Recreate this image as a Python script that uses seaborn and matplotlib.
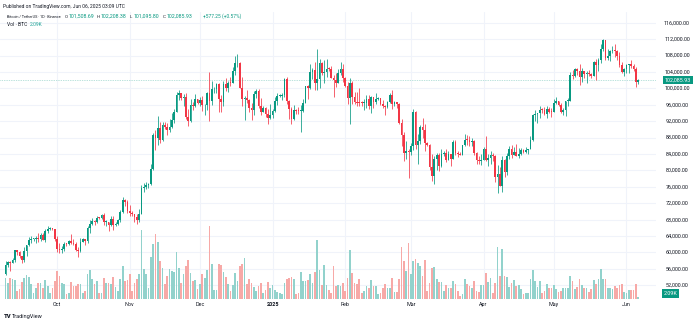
import matplotlib
matplotlib.use("Agg")
import matplotlib.pyplot as plt
import matplotlib.transforms as mtransforms
import seaborn as sns
import pandas as pd
import numpy as np

# ---------------- data (BTC/USDT daily) ----------------
start_date = "2024-09-09"

opens = [
    54840, 57050, 57650, 57340, 58130, 60540, 60000, 59180, 58210, 60310,
    61760, 62950, 63200, 63350, 63580, 63330, 64260, 63150, 65180, 65790,
    65890, 65600, 63300, 60800, 60650, 60750, 62070, 62050, 62820, 62220,
    62130, 60580, 60270, 62450, 63190, 62850, 66050, 67040, 67620, 67370,
    68410, 68360, 69030, 67370, 67380, 66650, 68160, 66630, 67010, 67930,
    69910, 72720, 72340, 70220, 69500, 69370, 68760, 67800, 69360, 75640,
    75900, 76550, 76680, 80370, 88650, 87950, 90380, 87330, 91030, 90580,
    89860, 90460, 92310, 94290, 98350, 98890, 97670, 97900, 93010, 91960,
    95860, 95640, 97460, 96410, 97190, 95840, 96000, 98770, 96940, 99740,
    99830, 101110, 97400, 96590, 101130, 100000, 101420, 101370, 104300, 106060,
    106140, 100200, 97460, 97760, 97220, 95100, 94690, 98650, 99430, 95790,
    94300, 95300, 93740, 92790, 93580, 94590, 96890, 98140, 98210, 98310,
    102250, 96950, 95040, 92480, 94700, 94550, 94490, 94510, 96530, 100500,
    99990, 104080, 104560, 101330, 102260, 106140, 103650, 103960, 104820, 104710,
    102590, 102080, 101330, 103730, 104730, 102430, 100640, 97690, 101400, 97870,
    96620, 96550, 96500, 96450, 96470, 97430, 95780, 97870, 96610, 97500,
    97570, 96120, 95770, 95540, 96640, 98330, 96120, 96580, 96270, 91550,
    88740, 84350, 84700, 84370, 86030, 94270, 86120, 87220, 90620, 89960,
    86740, 86150, 80730, 78600, 82860, 83720, 81070, 83970, 84340, 82580,
    84010, 82720, 86850, 84170, 84040, 83830, 86080, 87500, 87390, 86900,
    87230, 84350, 82650, 82390, 82550, 85160, 82520, 83100, 83840, 83500,
    78370, 79140, 76270, 82570, 79630, 83400, 85280, 83760, 84540, 83630,
    84030, 84950, 84450, 85060, 85170, 87520, 93440, 93690, 93950, 94720,
    94650, 93750, 95000, 94280, 94170, 96490, 96890, 95850, 94310, 94750,
    96830, 97030, 103230, 102970, 104700, 104120, 102790, 104170, 103540, 103740,
    103490, 103130, 106450, 105600, 106790, 109670, 111700, 107290, 107800, 109030,
    109440, 108990, 107800, 105640, 103990, 104640, 105650, 105880, 105430, 104700,
    101508.69,
]

highs = [
    58040, 58040, 57990, 58590, 60650, 60660, 60380, 59210, 61320, 61790,
    63870, 64130, 63560, 64000, 64750, 64820, 64800, 65840, 66500, 66260,
    66080, 65620, 64130, 62390, 61470, 62480, 62370, 62970, 64480, 63200,
    62540, 61320, 63420, 63480, 63290, 66500, 67950, 68420, 67940, 68970,
    68690, 69400, 69520, 67840, 67470, 68850, 68770, 67450, 68250, 70270,
    73620, 72960, 72700, 71630, 70000, 69400, 69480, 70580, 76400, 76950,
    77200, 76950, 81500, 89000, 89960, 93270, 91790, 91850, 91780, 91450,
    92590, 94000, 94900, 99000, 99590, 98900, 98590, 98870, 94970, 97360,
    96650, 98700, 97460, 97890, 98150, 96300, 99000, 103900, 101900, 100440,
    101350, 101220, 98270, 101890, 102540, 101900, 102650, 105250, 107790, 108350,
    106520, 102800, 98150, 99540, 97400, 96420, 99400, 99960, 99960, 97540,
    95670, 95350, 94900, 96150, 95000, 97840, 98980, 98730, 98810, 102500,
    102720, 97260, 95350, 95840, 94980, 95400, 95900, 97370, 100680, 100870,
    105860, 104990, 106420, 109590, 107240, 106330, 106850, 107120, 105290, 105490,
    103220, 103780, 104800, 106460, 106010, 102780, 101460, 102500, 101730, 99120,
    99200, 100140, 96880, 97320, 98340, 98500, 98120, 97970, 98830, 97970,
    97730, 97040, 96000, 96900, 98800, 99500, 96950, 96670, 96500, 92540,
    89400, 87080, 85120, 86560, 95000, 94420, 88910, 91000, 92800, 91220,
    86850, 86500, 83950, 83620, 84360, 84300, 85300, 84670, 85120, 84750,
    84050, 87450, 87440, 84780, 84520, 86100, 88770, 88540, 88290, 87790,
    87520, 84570, 83500, 83950, 85590, 88500, 83940, 84720, 84230, 83820,
    81240, 80870, 83590, 82700, 84250, 85860, 86100, 85800, 86500, 85500,
    85470, 85100, 85600, 85320, 88460, 93820, 94700, 94000, 95760, 95320,
    95350, 95600, 95460, 95200, 97440, 97900, 96940, 96320, 95200, 96900,
    97730, 103970, 104360, 104980, 104940, 105820, 104990, 104300, 104200, 104550,
    103710, 106660, 107110, 107320, 110800, 111980, 111800, 109470, 109300, 110420,
    110720, 109300, 108900, 106330, 104900, 105880, 105940, 106800, 106000, 105100,
    102208.38,
]

lows = [
    54600, 56400, 55550, 57320, 57630, 59460, 58700, 57490, 57610, 59170,
    61580, 62350, 62760, 62360, 62580, 62700, 62950, 62670, 64810, 65420,
    65420, 62850, 60160, 59980, 59830, 60460, 61680, 61850, 62130, 61860,
    60310, 58900, 60070, 62440, 61820, 62420, 64800, 66750, 66660, 67170,
    68050, 68100, 66750, 66570, 65260, 66470, 65520, 66430, 66800, 67500,
    69730, 71440, 69690, 68820, 68990, 67460, 66840, 67450, 69300, 74800,
    75560, 75770, 76490, 80220, 85070, 86130, 86670, 87120, 90060, 88720,
    89380, 90370, 91500, 94130, 97120, 97180, 95730, 92600, 90790, 91820,
    94650, 95360, 96160, 95770, 94400, 93580, 94660, 92120, 95980, 98840,
    98770, 94150, 94260, 95680, 99310, 99200, 100610, 101230, 103330, 105320,
    100000, 95670, 92230, 96400, 94200, 92400, 93400, 97600, 95150, 93500,
    94180, 93050, 91320, 92500, 92800, 94200, 96020, 97780, 97230, 97900,
    96130, 92500, 91200, 92200, 93840, 93700, 89260, 94300, 96500, 97360,
    99950, 102280, 99650, 99550, 100120, 103330, 101260, 102750, 104110, 102520,
    97780, 100270, 101330, 103290, 101560, 100280, 96150, 91230, 96150, 96120,
    95600, 95650, 95680, 94750, 95260, 94850, 94090, 95200, 96250, 97230,
    96050, 95200, 93390, 95100, 96480, 94870, 95770, 95270, 91370, 86050,
    82260, 82720, 78260, 83830, 85050, 85120, 81530, 86330, 87850, 84670,
    85950, 80000, 77460, 76600, 80080, 79940, 80800, 83630, 82000, 82460,
    81130, 82720, 83650, 83170, 83640, 83790, 85950, 86310, 85850, 85840,
    83650, 81650, 81570, 81280, 82430, 82320, 81170, 81660, 82370, 77150,
    74500, 76240, 74620, 78460, 78940, 82720, 83000, 83680, 83600, 83110,
    83740, 84300, 84340, 83950, 85140, 87080, 91930, 91650, 92860, 93880,
    93600, 92800, 93900, 92910, 94130, 96300, 95750, 94080, 93510, 93380,
    95800, 96900, 102300, 102800, 103350, 100720, 101450, 102620, 101400, 103100,
    102600, 103100, 102000, 104200, 106100, 109180, 106800, 106800, 106600, 108700,
    107550, 106800, 105320, 103630, 103070, 103850, 103700, 104880, 104160, 100370,
    101095.80,
]

closes = [
    57050, 57650, 57340, 58130, 60540, 60000, 59180, 58210, 60310, 61760,
    62950, 63200, 63350, 63580, 63330, 64260, 63150, 65180, 65790, 65890,
    65600, 63300, 60800, 60650, 60750, 62070, 62050, 62820, 62220, 62130,
    60580, 60270, 62450, 63190, 62850, 66050, 67040, 67620, 67370, 68410,
    68360, 69030, 67370, 67380, 66650, 68160, 66630, 67010, 67930, 69910,
    72720, 72340, 70220, 69500, 69370, 68760, 67800, 69360, 75640, 75900,
    76550, 76680, 80370, 88650, 87950, 90380, 87330, 91030, 90580, 89860,
    90460, 92310, 94290, 98350, 98890, 97670, 97900, 93010, 91960, 95860,
    95640, 97460, 96410, 97190, 95840, 96000, 98770, 96940, 99740, 99830,
    101110, 97400, 96590, 101130, 100000, 101420, 101370, 104300, 106060, 106140,
    100200, 97460, 97760, 97220, 95100, 94690, 98650, 99430, 95790, 94300,
    95300, 93740, 92790, 93580, 94590, 96890, 98140, 98210, 98310, 102250,
    96950, 95040, 92480, 94700, 94550, 94490, 94510, 96530, 100500, 99990,
    104080, 104560, 101330, 102260, 106140, 103650, 103960, 104820, 104710, 102590,
    102080, 101330, 103730, 104730, 102430, 100640, 97690, 101400, 97870, 96620,
    96550, 96500, 96450, 96470, 97430, 95780, 97870, 96610, 97500, 97570,
    96120, 95770, 95540, 96640, 98330, 96120, 96580, 96270, 91550, 88740,
    84350, 84700, 84370, 86030, 94270, 86120, 87220, 90620, 89960, 86740,
    86150, 80730, 78600, 82860, 83720, 81070, 83970, 84340, 82580, 84010,
    82720, 86850, 84170, 84040, 83830, 86080, 87500, 87390, 86900, 87230,
    84350, 82650, 82390, 82550, 85160, 82520, 83100, 83840, 83500, 78370,
    79140, 76270, 82570, 79630, 83400, 85280, 83760, 84540, 83630, 84030,
    84950, 84450, 85060, 85170, 87520, 93440, 93690, 93950, 94720, 94650,
    93750, 95000, 94280, 94170, 96490, 96890, 95850, 94310, 94750, 96830,
    97030, 103230, 102970, 104700, 104120, 102790, 104170, 103540, 103740, 103490,
    103130, 106450, 105600, 106790, 109670, 111700, 107290, 107800, 109030, 109440,
    108990, 107800, 105640, 103990, 104640, 105650, 105880, 105430, 104700, 101510,
    102085.93,
]

volumes_k = [
    21, 16, 21, 20, 19, 8, 10, 17, 21, 24,
    22, 15, 6, 11, 16, 16, 11, 19, 13, 6,
    11, 18, 28, 23, 16, 15, 5, 6, 17, 13,
    13, 15, 15, 6, 8, 25, 29, 20, 15, 18,
    6, 6, 21, 16, 16, 15, 22, 12, 8, 20,
    33, 18, 19, 25, 8, 16, 20, 25, 68, 30,
    25, 11, 41, 54, 64, 56, 37, 31, 15, 23,
    30, 28, 27, 46, 31, 16, 25, 33, 38, 26,
    18, 19, 10, 15, 25, 21, 29, 72, 35, 9,
    9, 35, 34, 27, 22, 15, 8, 14, 26, 18,
    33, 35, 40, 15, 20, 16, 12, 8, 13, 16,
    6, 9, 17, 11, 14, 9, 7, 6, 5, 16,
    20, 21, 22, 20, 5, 6, 27, 18, 18, 19,
    25, 16, 27, 58, 29, 14, 34, 14, 9, 6,
    33, 13, 14, 13, 16, 8, 21, 48, 26, 16,
    15, 20, 6, 8, 13, 11, 19, 13, 13, 5,
    6, 11, 15, 11, 11, 21, 7, 7, 20, 51,
    37, 28, 55, 25, 37, 39, 36, 33, 23, 38,
    8, 16, 31, 32, 20, 17, 17, 8, 14, 11,
    11, 18, 15, 8, 3, 5, 20, 15, 13, 11,
    18, 8, 7, 14, 14, 26, 17, 21, 6, 16,
    51, 23, 49, 23, 22, 12, 16, 19, 13, 14,
    10, 5, 6, 6, 20, 29, 18, 12, 18, 6,
    8, 15, 11, 11, 14, 10, 7, 8, 11, 11,
    11, 23, 18, 10, 12, 20, 14, 11, 11, 7,
    10, 19, 15, 20, 30, 20, 20, 11, 11, 10,
    13, 11, 14, 15, 7, 6, 9, 9, 9, 15,
    2.09,
]

month_ticks = ["2024-10-01", "2024-11-01", "2024-12-01", "2025-01-01", "2025-02-01",
               "2025-03-01", "2025-04-01", "2025-05-01", "2025-06-01"]
month_labels = ["Oct", "Nov", "Dec", "2025", "Feb", "Mar", "Apr", "May", "Jun"]
price_ticks = list(range(52000, 116001, 4000))
price_labels = [f"{p:,.2f}" for p in price_ticks]

header_text = "Published on TradingView.com, Jun 06, 2025 03:09 UTC"
symbol_text = "Bitcoin / TetherUS \u00b7 1D \u00b7 Binance"
ohlc_parts = [("O", "101,508.69"), ("H", "102,208.38"), ("L", "101,095.80"), ("C", "102,085.93")]
change_text = "+577.25 (+0.57%)"
vol_title = "Vol \u00b7 BTC"
vol_value_text = "2.09K"
last_price_text = "102,085.93"

# ---------------- style ----------------
sns.set_theme(style="white")
plt.rcParams["font.family"] = ["Roboto", "DejaVu Sans"]

UP = "#089981"
DOWN = "#F23645"
VUP = "#92D2CC"
VDOWN = "#F7A9A7"
GRID = "#F0F3FA"
TXT = "#131722"

W, H = 700, 323
fig = plt.figure(figsize=(W / 100, H / 100), dpi=100)
fig.patch.set_facecolor("white")

PL, PR, PT, PB = 0, 656, 12, 299
rect = [PL / W, 1 - PB / H, (PR - PL) / W, (PB - PT) / H]
ax_vol = fig.add_axes(rect)
ax = ax_vol.twinx()

dates = pd.date_range(start_date, periods=len(closes), freq="D")
xs = np.asarray((dates - dates[0]).days, dtype=float)
df = pd.DataFrame({"x": xs, "open": opens, "high": highs, "low": lows,
                   "close": closes, "volume": volumes_k})
df["dir"] = np.where(df["close"] >= df["open"], "up", "down")

# volume (background)
sns.barplot(data=df, x="x", y="volume", hue="dir", palette={"up": VUP, "down": VDOWN},
            native_scale=True, dodge=False, width=0.72, saturation=1, errorbar=None,
            legend=False, linewidth=0, ax=ax_vol)

# candles
colors = np.where(df["dir"] == "up", UP, DOWN)
ax.vlines(df["x"], df["low"], df["high"], colors=colors, linewidth=0.55, zorder=3)
body_bottom = np.minimum(df["open"], df["close"])
body_h = np.maximum(np.abs(df["close"] - df["open"]), 220)
ax.bar(df["x"], body_h, bottom=body_bottom, width=0.72, color=colors, linewidth=0, zorder=4)

# limits
x_left, x_right = -2.35, 277.6
ax_vol.set_xlim(x_left, x_right)
ax.set_xlim(x_left, x_right)
ax.set_ylim(48659, 118608)
vmax = max(volumes_k)
ax_vol.set_ylim(0, vmax * (PB - PT) / 73.0)

# grid
ytrans = ax.get_yaxis_transform()
for p in price_ticks:
    ax_vol.plot([0, 1], [p, p], transform=ytrans, color=GRID, lw=0.8, zorder=0)
tick_x = [(pd.Timestamp(d) - dates[0]).days for d in month_ticks]
for tx in tick_x:
    ax_vol.axvline(tx, color=GRID, lw=0.8, zorder=0)

# last price line
ax.axhline(closes[-1], color=UP, lw=0.5, ls=(0, (1, 1.5)), alpha=0.55, zorder=2)

for a in (ax, ax_vol):
    a.set_xticks([])
    a.set_yticks([])
    a.set_xlabel("")
    a.set_ylabel("")
    for s in a.spines.values():
        s.set_visible(False)
ax_vol.set_facecolor("white")
ax.patch.set_visible(False)

# price scale labels
fx_py = mtransforms.blended_transform_factory(fig.transFigure, ax.transData)
for p, lab in zip(price_ticks, price_labels):
    fig.text(677 / W, p, lab, transform=fx_py, ha="center", va="center",
             fontsize=3.9, color=TXT)
fig.text(678 / W, closes[-1], last_price_text, transform=fx_py, ha="center", va="center",
         fontsize=3.9, color="white",
         bbox=dict(boxstyle="square,pad=0.3", fc=UP, ec="none"))
fig.text(664 / W, 1 - 293.5 / H, vol_value_text, ha="left", va="center", fontsize=3.9,
         color="white", bbox=dict(boxstyle="square,pad=0.3", fc=UP, ec="none"))

# time labels
dx_fy = mtransforms.blended_transform_factory(ax.transData, fig.transFigure)
for tx, lab in zip(tick_x, month_labels):
    fig.text(tx, 1 - 304.5 / H, lab, transform=dx_fy, ha="center", va="center",
             fontsize=3.9, color=TXT, fontweight="bold" if lab == "2025" else "normal")

# header & legend (each piece fitted to the width it takes in the reference)
renderer = fig.canvas.get_renderer()


def fitted_text(x0, x1, y, s, color, fs=3.3, weight="normal"):
    t = fig.text(x0 / W, 1 - y / H, s, ha="left", va="center", fontsize=fs,
                 color=color, fontweight=weight)
    w = t.get_window_extent(renderer=renderer).width
    if w > 0:
        t.set_fontsize(fs * (x1 - x0) / w)
    return t


fitted_text(3, 125, 6.5, header_text, TXT, fs=3.5)
fitted_text(7, 62, 16.5, symbol_text, TXT)
ohlc_x = [65, 97, 130, 163]
for (letter, val), px in zip(ohlc_parts, ohlc_x):
    fig.text(px / W, 1 - 16.5 / H, letter, ha="left", va="center", fontsize=3.2, color=TXT)
    fitted_text(px + 3.6, px + 29.5, 16.5, val, UP)
fitted_text(203, 242, 16.5, change_text, UP)
fitted_text(7, 28, 24.5, vol_title, TXT)
fitted_text(30, 43, 24.5, vol_value_text, "#26a69a")

# footer
fig.text(4 / W, 1 - 316.5 / H, "TV", ha="left", va="center", fontsize=4.2,
         fontweight="black", color=TXT)
fitted_text(12, 43, 316.5, "TradingView", TXT, fs=4.0)

fig.savefig("out.png", dpi=100, facecolor="white")
